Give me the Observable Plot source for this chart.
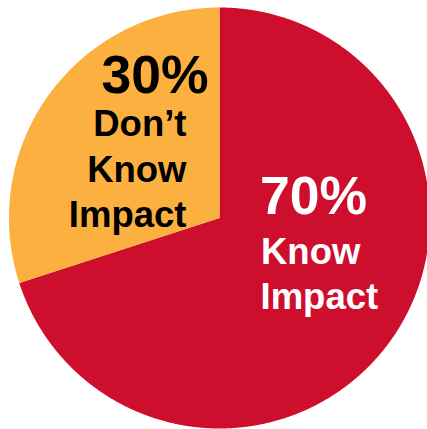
<!DOCTYPE html>
<html><head><meta charset="utf-8">
<script src="https://cdn.jsdelivr.net/npm/d3@7"></script>
<script src="https://cdn.jsdelivr.net/npm/@observablehq/plot@0.6"></script>
<style>html,body{margin:0;padding:0;background:#fff;overflow:hidden;}</style>
</head><body><div id="chart"></div>
<script>
const categories = ["Know Impact", "Don’t Know Impact"];
const values = [70, 30];
const percentLabels = ["70%", "30%"];
const colors = ["#ce0e2d", "#fbb040"];

const W = 427, H = 429, CX = 219, CY = 217.5, R = 210.5;
const px = p => (p - CX) / R;
const py = p => (CY - p) / R;

const arcs = d3.pie().sort(null).value(d => d.value)(
  categories.map((c, i) => ({category: c, value: values[i]}))
);
const pts = [];
arcs.forEach(a => {
  const n = Math.max(2, Math.ceil((a.endAngle - a.startAngle) / (Math.PI / 720)));
  pts.push({category: a.data.category, x: 0, y: 0});
  for (let k = 0; k <= n; k++) {
    const t = a.startAngle + (a.endAngle - a.startAngle) * k / n;
    pts.push({category: a.data.category, x: Math.sin(t), y: Math.cos(t)});
  }
  pts.push({category: a.data.category, x: 0, y: 0});
});

const font = "Liberation Sans, Arial, Helvetica, sans-serif";
const blackLines = [
  {t: percentLabels[1], x: px(208), y: py(92), s: 53.5},
  {t: "Don’t", x: px(186), y: py(135), s: 36.5},
  {t: "Know", x: px(186), y: py(181), s: 36.5},
  {t: "Impact", x: px(186), y: py(226), s: 36.5}
];
const whiteLines = [
  {t: percentLabels[0], x: px(259.5), y: py(213), s: 53.5},
  {t: "Know", x: px(260.5), y: py(263), s: 36.5},
  {t: "Impact", x: px(260), y: py(308), s: 36.5}
];

const chart = Plot.plot({
  width: W, height: H, margin: 0,
  x: {domain: [px(0), px(W)], axis: null},
  y: {domain: [py(H), py(0)], axis: null},
  color: {domain: categories, range: colors},
  style: {background: "#fff"},
  marks: [
    Plot.line(pts, {x: "x", y: "y", z: "category", fill: "category", stroke: "none", curve: "linear"}),
    Plot.text(blackLines, {x: "x", y: "y", text: "t", fontSize: "s", textAnchor: "end", lineAnchor: "bottom",
      fill: "#000", fontWeight: "bold", fontFamily: font}),
    Plot.text(whiteLines, {x: "x", y: "y", text: "t", fontSize: "s", textAnchor: "start", lineAnchor: "bottom",
      fill: "#fff", fontWeight: "bold", fontFamily: font})
  ]
});
document.getElementById("chart").appendChild(chart);
</script>
</body></html>
